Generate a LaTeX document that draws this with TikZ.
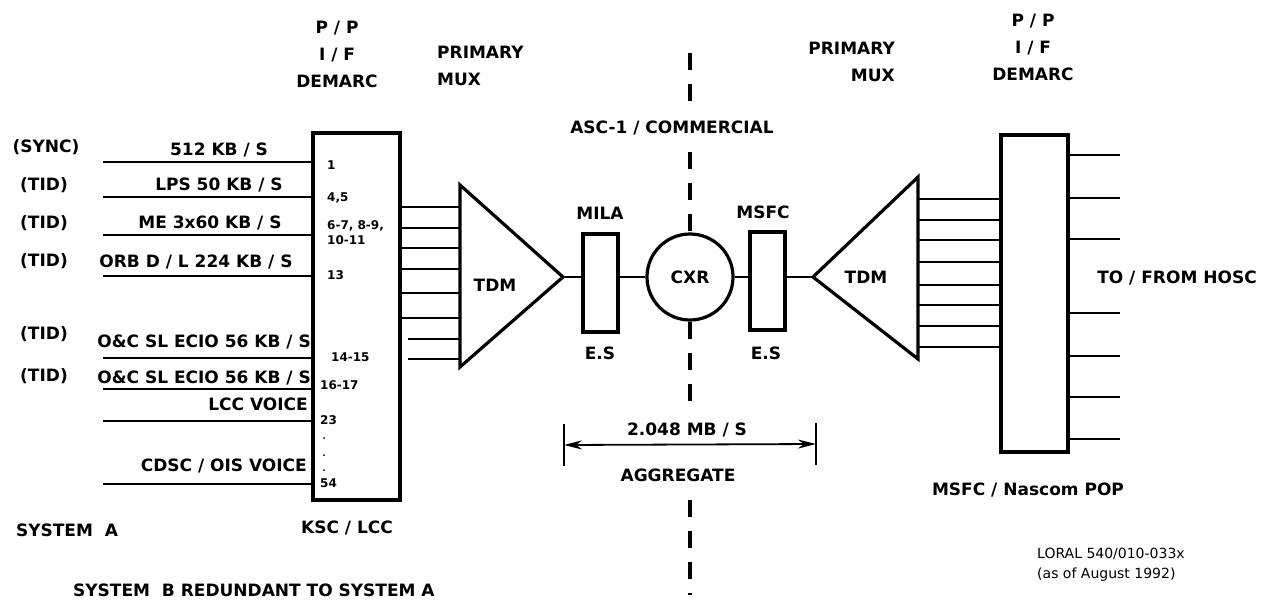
\documentclass[tikz,border=0pt]{standalone}
\usepackage{fontspec}
\setmainfont{DejaVu Sans}
\usetikzlibrary{arrows.meta}

\tikzset{
  lbl/.style={font=\bfseries\fontsize{17}{27}\selectfont, inner sep=0pt},
  num/.style={font=\bfseries\fontsize{12}{15}\selectfont, inner sep=0pt, anchor=west, align=left},
  note/.style={font=\fontsize{14}{20}\selectfont, inner sep=0pt, anchor=west, align=left},
  unit/.style={draw, line width=3.2pt, inner sep=0pt},
  wire/.style={line width=1.8pt},
  tdm/.style={line width=3.2pt, line join=miter},
  divide/.style={line width=3.5pt, dash pattern=on 17pt off 14pt},
}

\begin{document}
\begin{tikzpicture}[x=1pt,y=-1pt]
  \useasboundingbox (0,0) rectangle (1265,607);

  % top headings
  \node[lbl, align=center] (ldemarc) at (337,54) {P / P\\I / F\\DEMARC};
  \node[lbl, align=left, anchor=west] (lmux) at (437,66) {PRIMARY\\MUX};
  \node[lbl] (asc) at (672,128) {ASC-1 / COMMERCIAL};
  \node[lbl, align=right, anchor=east] (rmux) at (895,62) {PRIMARY\\MUX};
  \node[lbl, align=center] (rdemarc) at (1033,47) {P / P\\I / F\\DEMARC};

  % KSC / LCC demarc panel
  \node[unit, minimum width=87pt, minimum height=367pt] (lbox) at (356.5,316.5) {};
  \foreach \y in {162,197,235,276,358,389,421,484}
    \draw[wire] (lbox.west |- 0,\y) -- (103,\y);
  \node[lbl] (sync) at (46,147) {(SYNC)};
  \node[lbl] at (219,150) {512 KB / S};
  \node[lbl] at (44,185) {(TID)};
  \node[lbl] at (219,185) {LPS 50 KB / S};
  \node[lbl] at (44,223) {(TID)};
  \node[lbl] at (210,223) {ME 3x60 KB / S};
  \node[lbl] at (44,261) {(TID)};
  \node[lbl] at (196,262) {ORB D / L 224 KB / S};
  \node[lbl] at (44,334) {(TID)};
  \node[lbl, anchor=east] at (311,342) {O\&C SL ECIO 56 KB / S};
  \node[lbl] at (44,376) {(TID)};
  \node[lbl, anchor=east] at (311,378) {O\&C SL ECIO 56 KB / S};
  \node[lbl, anchor=east] at (308,404) {LCC VOICE};
  \node[lbl, anchor=east] at (307,466) {CDSC / OIS VOICE};

  % channel numbers
  \node[num] at (327,165) {1};
  \node[num] at (327,198) {4,5};
  \node[num] at (327,233) {6-7, 8-9,\\10-11};
  \node[num] at (327,275) {13};
  \node[num] at (331,357) {14-15};
  \node[num] at (320,385) {16-17};
  \node[num] at (320,420) {23};
  \foreach \y in {438,455,470}
    \fill (324,\y) circle (1pt);
  \node[num] at (320,483) {54};

  % left multiplexer
  \foreach \y in {207,228,248,269,293,318}
    \draw[wire] (lbox.east |- 0,\y) -- (460,\y);
  \foreach \y in {339,359}
    \draw[wire] (408,\y) -- (460,\y);
  \draw[tdm] (460,185) -- (563,277) coordinate (lapex) -- (460,367) -- cycle;
  \node[lbl] (ltdm) at (495,285) {TDM};

  % elastic stores and cross-connect
  \node[unit, minimum width=35pt, minimum height=98pt] (mila) at (600.5,283) {};
  \node[lbl] at (600,213) {MILA};
  \node[lbl] at (600,353) {E.S};
  \node[unit, circle, minimum size=86pt, font=\bfseries\fontsize{17}{19}\selectfont] (cxr) at (690,277) {CXR};
  \node[unit, minimum width=35pt, minimum height=98pt] (msfc) at (767.5,281) {};
  \node[lbl] at (763,212) {MSFC};
  \node[lbl] at (766,353) {E.S};
  \draw[wire] (lapex) -- (lapex -| mila.west);
  \draw[wire] (lapex -| mila.east) -- (cxr.west);
  \draw[wire] (cxr.east) -- (cxr.east -| msfc.west);

  % right multiplexer
  \draw[tdm] (918,177) -- (813,277) coordinate (rapex) -- (918,359) -- cycle;
  \node[lbl] (rtdm) at (866,277) {TDM};
  \draw[wire] (cxr.east -| msfc.east) -- (rapex);

  % MSFC / Nascom demarc panel
  \node[unit, minimum width=67pt, minimum height=317pt] (rbox) at (1034.5,293.5) {};
  \foreach \y in {199,220,240,262,285,305,326,347}
    \draw[wire] (918,\y) -- (rbox.west |- 0,\y);
  \foreach \y in {155,198,239,313,356,397,439}
    \draw[wire] (rbox.east |- 0,\y) -- (1120,\y);
  \node[lbl] (hosc) at (1177,278) {TO / FROM HOSC};
  \node[lbl] (pop) at (1028,490) {MSFC / Nascom POP};

  % boundary
  \draw[divide] (690,53) -- (690,104);
  \draw[divide] (690,152) -- (cxr.north);
  \draw[divide] (cxr.south) -- (690,405);
  \draw[divide] (690,500) -- (690,595);

  % aggregate rate
  \coordinate (aggl) at (564,445);
  \coordinate (aggr) at (816,444);
  \draw[wire] ([yshift=-21pt]aggl) -- ([yshift=21pt]aggl);
  \draw[wire] ([yshift=-21pt]aggr) -- ([yshift=21pt]aggr);
  \draw[wire, {Stealth[length=18pt,width=9pt]}-{Stealth[length=18pt,width=9pt]}] (aggl) -- (aggr);
  \node[lbl] at (687,430) {2.048 MB / S};
  \node[lbl] at (678,475) {AGGREGATE};

  % captions
  \node[lbl] at (67,530) {SYSTEM\ \ A};
  \node[lbl] at (347,528) {KSC / LCC};
  \node[lbl, anchor=west] at (73,590) {SYSTEM\ \ B REDUNDANT TO SYSTEM A};
  \node[note] at (1037,565) {LORAL 540/010-033x\\(as of August 1992)};
\end{tikzpicture}
\end{document}
